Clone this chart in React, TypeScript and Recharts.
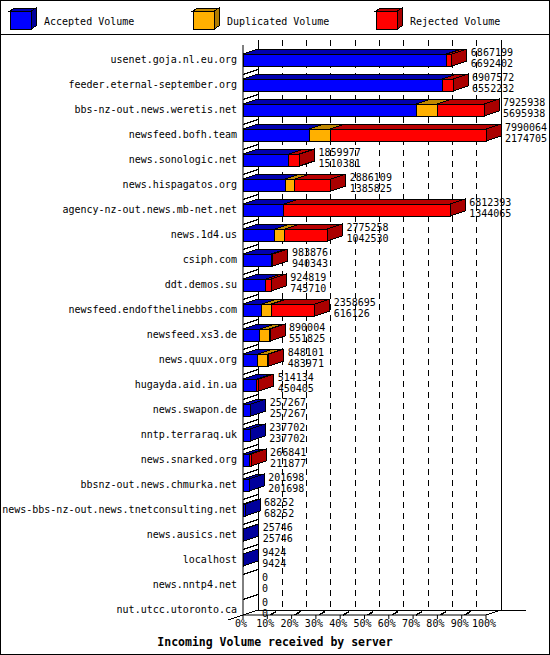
import { Bar, BarChart, CartesianGrid, Label, LabelList, Legend, XAxis, YAxis } from "recharts";

const servers = [
  "usenet.goja.nl.eu.org",
  "feeder.eternal-september.org",
  "bbs-nz-out.news.weretis.net",
  "newsfeed.bofh.team",
  "news.sonologic.net",
  "news.hispagatos.org",
  "agency-nz-out.news.mb-net.net",
  "news.1d4.us",
  "csiph.com",
  "ddt.demos.su",
  "newsfeed.endofthelinebbs.com",
  "newsfeed.xs3.de",
  "news.quux.org",
  "hugayda.aid.in.ua",
  "news.swapon.de",
  "nntp.terraraq.uk",
  "news.snarked.org",
  "bbsnz-out.news.chmurka.net",
  "news-bbs-nz-out.news.tnetconsulting.net",
  "news.ausics.net",
  "localhost",
  "news.nntp4.net",
  "nut.utcc.utoronto.ca",
];

const totalVolume = [
  6867199, 6907572, 7925938, 7990064, 1859977, 2886109, 6812393, 2775258, 983876, 924819, 2358695, 890004,
  848101, 514134, 257267, 237702, 266841, 201698, 68252, 25746, 9424, 0, 0,
];
const acceptedVolume = [
  6692402, 6552232, 5695938, 2174705, 1510381, 1385825, 1344065, 1042530, 940343, 745710, 616126, 551825,
  483971, 450405, 257267, 237702, 211877, 201698, 68252, 25746, 9424, 0, 0,
];
const duplicatedVolume = [
  0, 0, 690000, 690000, 0, 320000, 0, 330000, 0, 0, 320000, 310000, 330000, 0, 0, 0, 0, 0, 0, 0, 0, 0, 0,
];
const rejectedVolume = [
  174797, 355340, 1540000, 5125359, 349596, 1180284, 5468328, 1402728, 43533, 179109, 1422569, 28179, 34130,
  63729, 0, 0, 54964, 0, 0, 0, 0, 0, 0,
];

const percentLabels = ["0%", "10%", "20%", "30%", "40%", "50%", "60%", "70%", "80%", "90%", "100%"];

const seriesNames = ["Accepted Volume", "Duplicated Volume", "Rejected Volume"];
const seriesKeys = ["accepted", "duplicated", "rejected"];
const seriesColors = [
  { front: "#0000ff", top: "#0000b0", side: "#00009c" },
  { front: "#ffb000", top: "#c08800", side: "#b07c00" },
  { front: "#ff0000", top: "#b80000", side: "#aa0000" },
];

const data = servers.map((name, i) => ({
  name,
  total: totalVolume[i],
  accepted: acceptedVolume[i],
  duplicated: duplicatedVolume[i],
  rejected: rejectedVolume[i],
}));

const X_MAX = Math.max(...totalVolume);
const xTicks = percentLabels.map((_, i) => (X_MAX * i) / 10);

const FONT = "'DejaVu Sans Mono', monospace";
const DX = 15; // 3d depth
const DY = 5;

// one stacked segment drawn as a box, the last segment also gets the end face
const segmentShape = (key, colors) => (props) => {
  const { x, y, width, height, payload } = props;
  const idx = seriesKeys.indexOf(key);
  const isEnd = payload[key] > 0 && seriesKeys.slice(idx + 1).every((k) => !payload[k]);
  if (!(width > 0) && !isEnd) return <g />;
  const w = Math.max(width, 0);
  return (
    <g shapeRendering="crispEdges">
      {w > 0 && (
        <polygon
          points={`${x},${y} ${x + DX},${y - DY} ${x + w + DX},${y - DY} ${x + w},${y}`}
          fill={colors.top}
          stroke="#000"
        />
      )}
      {w > 0 && <rect x={x} y={y} width={w} height={height} fill={colors.front} stroke="#000" />}
      {isEnd && (
        <polygon
          points={`${x + w},${y} ${x + w + DX},${y - DY} ${x + w + DX},${y + height - DY} ${x + w},${y + height}`}
          fill={colors.side}
          stroke="#000"
        />
      )}
    </g>
  );
};

const renderValues = (props) => {
  const vb = props.viewBox ?? props;
  const row = data[props.index];
  if (!row || !vb) return null;
  const tx = vb.x + vb.width + DX + 4;
  const cy = vb.y + vb.height / 2;
  return (
    <g fontFamily={FONT} fontSize={10} fill="#000">
      <text x={tx} y={cy - 7.5} dominantBaseline="central">
        {row.total}
      </text>
      <text x={tx} y={cy + 3.5} dominantBaseline="central">
        {row.accepted}
      </text>
    </g>
  );
};

const renderGridLine = (p) => {
  const { x1, y1, y2, index } = p;
  const last = index === xTicks.length - 1;
  const edge = index === 0 || last;
  const bx = x1 + DX;
  const plotRight = typeof p.x === "number" && typeof p.width === "number" ? p.x + p.width : x1 + 243;
  return (
    <g key={`grid-${index}`} stroke="#000" shapeRendering="crispEdges">
      <line x1={bx} y1={y1 - DY} x2={bx} y2={y2 - DY} strokeDasharray={edge ? undefined : "6 5"} />
      {!edge && <line x1={x1 + 3} y1={y2} x2={x1 + 9} y2={y2 - 3.5} strokeWidth={1.5} />}
      {index === 0 && (
        <>
          <line x1={bx} y1={y2 - DY} x2={plotRight + DX + 25} y2={y2 - DY} />
          <line x1={x1 - DX} y1={y2 + DY} x2={bx} y2={y2 - DY} />
        </>
      )}
      {last && <line x1={x1} y1={y2} x2={bx} y2={y2 - DY} />}
    </g>
  );
};

const renderCategoryTick = (props) => {
  const { y, payload } = props;
  const wallX = 243;
  return (
    <g>
      <text x={237} y={y} dy="0.35em" textAnchor="end" fontFamily={FONT} fontSize={10} fill="#000">
        {payload.value}
      </text>
      {y + 15 < 612 && (
        <line x1={wallX} y1={y + 15} x2={wallX + DX} y2={y + 10} stroke="#000" shapeRendering="crispEdges" />
      )}
    </g>
  );
};

const renderPercentTick = (props) => {
  const { x, y, index } = props;
  return (
    <text x={x - 2} y={y + 2} textAnchor="middle" dominantBaseline="central" fontFamily={FONT} fontSize={10} fill="#000">
      {percentLabels[index]}
    </text>
  );
};

const renderLegend = () => (
  <div style={{ width: 550, height: 35, borderBottom: "1px solid #000", boxSizing: "border-box" }}>
    <svg width={550} height={34}>
      {seriesNames.map((name, i) => {
        const bx = 10 + i * 183;
        const c = seriesColors[i];
        return (
          <g key={name} shapeRendering="crispEdges">
            <polygon points={`${bx},11 ${bx + 5},8 ${bx + 26},8 ${bx + 21},11`} fill={c.top} stroke="#000" />
            <polygon points={`${bx + 21},11 ${bx + 26},8 ${bx + 26},26 ${bx + 21},29`} fill={c.side} stroke="#000" />
            <rect x={bx} y={11} width={21} height={18} fill={c.front} stroke="#000" />
            <text x={bx + 34} y={21} dominantBaseline="central" fontFamily={FONT} fontSize={10} fill="#000" shapeRendering="auto">
              {name}
            </text>
          </g>
        );
      })}
    </svg>
  </div>
);

export default function App() {
  return (
    <div style={{ position: "relative", width: 550, height: 655, background: "#fff" }}>
      <style>{"body{margin:0}"}</style>
      <BarChart
        width={550}
        height={655}
        data={data}
        layout="vertical"
        margin={{ top: 45, right: 64, bottom: 0, left: 0 }}
        barSize={12}
      >
        <Legend
          layout="horizontal"
          align="center"
          verticalAlign="middle"
          content={renderLegend}
          wrapperStyle={{ top: 0, left: 0, width: 550, height: 35 }}
        />
        <CartesianGrid horizontal={false} vertical={renderGridLine} />
        <XAxis
          type="number"
          domain={[0, X_MAX]}
          ticks={xTicks}
          interval={0}
          height={40}
          tickSize={4}
          tickLine={{ stroke: "#000" }}
          axisLine={{ stroke: "#000" }}
          tick={renderPercentTick}
        >
          <Label
            content={() => (
              <text x={275} y={642} textAnchor="middle" dominantBaseline="central" fontFamily={FONT} fontSize={11.5} fontWeight="bold" fill="#000">
                Incoming Volume received by server
              </text>
            )}
          />
        </XAxis>
        <YAxis
          type="category"
          dataKey="name"
          width={243}
          interval={0}
          padding={{ top: 2, bottom: -7 }}
          tickLine={false}
          axisLine={{ stroke: "#000" }}
          tick={renderCategoryTick}
        />
        {seriesKeys.map((key, i) => (
          <Bar
            key={key}
            dataKey={key}
            name={seriesNames[i]}
            stackId="volume"
            fill={seriesColors[i].front}
            shape={segmentShape(key, seriesColors[i])}
            isAnimationActive={false}
          >
            {key === "rejected" && <LabelList dataKey="total" content={renderValues} />}
          </Bar>
        ))}
      </BarChart>
      <div
        style={{
          position: "absolute",
          inset: 0,
          border: "1px solid #000",
          pointerEvents: "none",
        }}
      />
    </div>
  );
}
